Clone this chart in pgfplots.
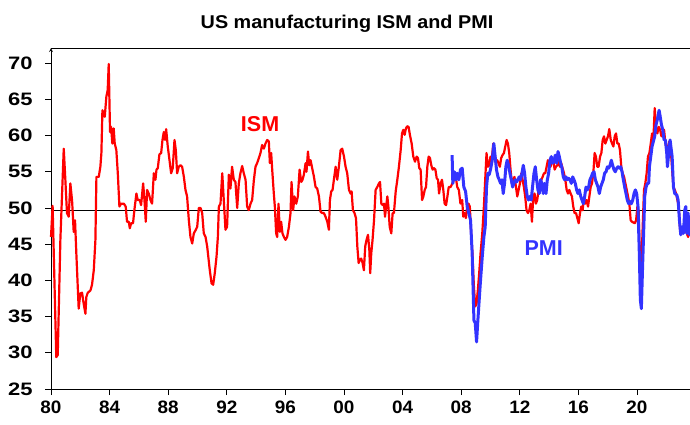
\documentclass[border=0pt]{standalone}
\usepackage{fontspec}
\setmainfont{Liberation Sans}
\newfontfamily\ytickfont[FakeStretch=1.22]{Liberation Sans}
\newfontfamily\xtickfont[FakeStretch=1.05]{Liberation Sans}
\newfontfamily\titlefont[FakeStretch=1.07]{Liberation Sans}
\usepackage{pgfplots}
\pgfplotsset{compat=1.18}
\definecolor{ismred}{RGB}{255,0,0}
\definecolor{pmiblue}{RGB}{51,51,255}
\begin{document}
\begin{tikzpicture}
\begin{axis}[
  at={(0,0)}, anchor=south west,
  scale only axis, width=639pt, height=341pt,
  xmin=1980, xmax=2023.62, ymin=25, ymax=72.1,
  axis x line=box, axis y line=left,
  axis line style={black, line width=0.8pt},
  xtick pos=lower, ytick pos=left,
  tick align=outside, major tick length=6pt,
  tick style={black, line width=0.8pt},
  xtick={1980,1984,...,2020},
  xticklabels={80,84,88,92,96,00,04,08,12,16,20},
  ytick={25,30,...,70},
  /pgf/number format/assume math mode=true,
  yticklabel style={font=\ytickfont\fontsize{18}{20}\selectfont\bfseries, xshift=-9pt},
  xticklabel style={font=\xtickfont\fontsize{18}{20}\selectfont\bfseries, yshift=-2pt},
  clip=false,
]
\addplot[black, line width=0.8pt] coordinates {(1980,49.7) (2023.62,49.7)};
\addplot[ismred, line width=2.2pt, line join=round] coordinates {
(1980.00,46.0)(1980.11,50.3)(1980.36,29.4)(1980.46,29.7)(1980.64,45.6)(1980.87,58.2)(1980.98,53.9)
(1981.09,49.3)(1981.21,48.8)(1981.32,53.4)(1981.44,51.0)(1981.55,46.7)(1981.64,48.3)(1981.73,43.7)(1981.89,36.1)
(1982.00,38.2)(1982.12,38.3)(1982.23,36.8)(1982.35,35.4)(1982.41,37.7)(1982.51,38.3)(1982.69,38.6)(1982.80,39.4)(1982.92,41.4)
(1983.03,45.5)(1983.10,54.3)(1983.26,54.3)(1983.37,55.7)(1983.44,57.6)(1983.51,63.5)(1983.67,62.6)(1983.78,65.4)(1983.87,66.3)(1983.94,69.9)
(1984.03,60.5)(1984.10,61.2)(1984.19,58.9)(1984.28,61.0)(1984.35,58.9)(1984.46,58.0)(1984.56,54.8)(1984.67,50.2)(1984.78,50.6)(1984.97,50.6)
(1985.10,50.2)(1985.19,48.1)(1985.31,48.1)(1985.38,47.2)(1985.47,47.9)(1985.60,47.9)(1985.69,49.7)(1985.83,52.0)(1985.92,51.1)
(1986.06,51.1)(1986.15,50.4)(1986.29,53.4)(1986.38,51.1)(1986.47,48.1)(1986.56,52.5)(1986.67,52.0)(1986.79,51.1)(1986.90,50.6)
(1987.02,54.8)(1987.13,53.9)(1987.20,55.3)(1987.29,55.5)(1987.40,57.4)(1987.52,57.6)(1987.61,59.4)(1987.70,60.5)(1987.79,59.4)(1987.86,60.9)(1987.97,58.5)
(1988.09,56.6)(1988.20,54.8)(1988.31,55.5)(1988.43,59.4)(1988.52,58.0)(1988.61,54.8)(1988.72,55.7)(1988.84,55.9)(1988.95,55.7)
(1989.07,54.3)(1989.18,52.5)(1989.29,51.6)(1989.41,48.3)(1989.52,46.0)(1989.64,45.1)(1989.75,46.5)(1989.86,46.9)(1989.98,47.4)
(1990.09,50.0)(1990.21,50.0)(1990.32,49.3)(1990.43,46.5)(1990.55,46.0)(1990.66,44.7)(1990.84,41.4)(1990.96,39.6)
(1991.07,39.4)(1991.18,41.0)(1991.30,43.3)(1991.39,46.0)(1991.46,50.2)(1991.57,50.6)(1991.69,54.8)(1991.91,47.0)
(1992.02,47.4)(1992.14,54.6)(1992.25,52.7)(1992.36,55.7)(1992.48,53.9)(1992.59,53.6)(1992.71,50.0)(1992.82,53.4)(1992.93,54.8)
(1993.05,55.8)(1993.16,54.8)(1993.28,53.9)(1993.39,50.2)(1993.50,49.7)(1993.62,50.6)(1993.73,51.1)(1993.85,53.9)(1993.96,55.7)
(1994.07,56.2)(1994.19,56.9)(1994.30,57.6)(1994.41,58.7)(1994.53,58.2)(1994.64,58.9)(1994.76,59.4)(1994.87,59.2)(1994.94,56.2)
(1995.03,57.6)(1995.10,55.3)(1995.21,52.0)(1995.28,50.2)(1995.37,46.5)(1995.44,46.0)(1995.53,50.6)(1995.62,46.7)(1995.71,48.1)(1995.80,46.5)(1995.90,46.0)
(1996.01,45.6)(1996.12,46.0)(1996.24,47.4)(1996.35,49.3)(1996.42,53.6)(1996.53,49.7)(1996.62,51.6)(1996.74,50.6)(1996.85,51.6)(1996.97,55.3)
(1997.08,53.6)(1997.17,53.9)(1997.26,54.6)(1997.38,56.2)(1997.44,55.0)(1997.54,57.8)(1997.63,55.9)(1997.72,56.6)(1997.83,55.5)(1997.95,54.3)
(1998.06,52.9)(1998.17,52.7)(1998.29,51.6)(1998.40,49.5)(1998.51,49.3)(1998.63,49.3)(1998.74,48.8)(1998.86,48.1)(1998.97,47.0)
(1999.04,51.1)(1999.13,52.3)(1999.22,52.5)(1999.31,53.9)(1999.43,55.7)(1999.54,53.9)(1999.65,55.7)(1999.77,58.0)(1999.88,58.2)
(2000.00,57.1)(2000.11,55.7)(2000.22,54.8)(2000.34,52.5)(2000.45,52.0)(2000.52,52.3)(2000.61,49.7)(2000.72,49.3)(2000.82,48.6)(2000.91,44.7)
(2001.00,42.4)(2001.09,42.9)(2001.18,43.0)(2001.27,42.4)(2001.36,41.4)(2001.45,44.7)(2001.54,45.6)(2001.64,46.3)(2001.73,44.2)(2001.79,41.0)(2001.86,43.7)(2001.95,45.6)
(2002.05,48.3)(2002.16,52.5)(2002.27,52.9)(2002.39,53.4)(2002.46,53.6)(2002.55,50.6)(2002.64,50.4)(2002.73,50.6)(2002.80,48.8)(2002.89,50.4)(2002.96,51.6)
(2003.03,50.2)(2003.12,47.4)(2003.23,46.5)(2003.32,49.3)(2003.41,49.3)(2003.53,52.3)(2003.64,53.9)(2003.75,55.7)(2003.87,58.0)(2003.96,60.3)
(2004.05,60.8)(2004.14,60.1)(2004.23,61.0)(2004.32,61.3)(2004.41,61.2)(2004.50,60.1)(2004.62,58.9)(2004.73,57.1)(2004.85,56.4)(2004.96,57.1)
(2005.05,56.9)(2005.14,55.5)(2005.23,55.3)(2005.33,51.1)(2005.42,51.6)(2005.51,52.5)(2005.60,52.9)(2005.69,55.7)(2005.78,57.1)(2005.87,56.9)(2005.96,55.9)
(2006.05,55.3)(2006.15,55.5)(2006.24,55.3)(2006.33,54.1)(2006.42,53.9)(2006.49,52.0)(2006.60,53.4)(2006.69,53.9)(2006.78,52.5)(2006.87,50.6)(2006.97,50.4)
(2007.06,51.6)(2007.15,52.9)(2007.28,52.9)(2007.40,53.4)(2007.50,53.9)(2007.61,54.6)(2007.73,52.9)(2007.84,52.5)(2007.95,50.6)
(2008.07,51.1)(2008.14,48.8)(2008.23,49.3)(2008.32,48.6)(2008.41,50.2)(2008.50,50.6)(2008.59,50.2)(2008.68,46.5)(2008.77,43.7)(2008.87,39.1)(2008.96,36.4)
(2009.05,36.8)(2009.14,38.7)(2009.23,41.0)(2009.32,43.7)(2009.44,46.5)(2009.55,50.2)(2009.64,53.9)(2009.73,57.6)(2009.82,55.7)(2009.91,55.9)
(2010.00,57.1)(2010.10,56.9)(2010.19,58.9)(2010.28,57.6)(2010.37,56.2)(2010.46,56.6)(2010.55,56.2)(2010.64,55.7)(2010.73,56.9)(2010.82,57.3)(2010.92,57.6)
(2011.01,58.5)(2011.10,59.4)(2011.19,58.9)(2011.28,57.6)(2011.37,55.3)(2011.46,53.4)(2011.55,53.9)(2011.64,54.3)(2011.74,52.9)(2011.83,51.6)(2011.92,52.5)
(2012.01,53.4)(2012.10,54.8)(2012.19,53.9)(2012.28,52.9)(2012.37,51.6)(2012.46,49.7)(2012.56,49.3)(2012.65,49.7)(2012.74,50.6)(2012.83,48.1)(2012.92,51.6)
(2013.01,52.0)(2013.10,50.6)(2013.19,51.1)(2013.28,52.5)(2013.38,52.9)(2013.47,53.9)(2013.56,54.3)(2013.65,54.8)(2013.74,54.8)(2013.83,55.7)(2013.92,56.6)
(2014.01,56.2)(2014.10,55.7)(2014.20,56.6)(2014.29,56.6)(2014.38,55.3)(2014.47,55.7)(2014.56,55.9)(2014.65,56.4)(2014.74,55.7)(2014.83,56.2)(2014.92,55.5)
(2015.02,54.8)(2015.11,53.9)(2015.20,52.5)(2015.29,52.0)(2015.38,52.5)(2015.47,52.0)(2015.56,51.6)(2015.65,50.2)(2015.74,49.3)(2015.84,49.3)(2015.93,48.6)
(2016.02,47.9)(2016.11,49.3)(2016.20,50.2)(2016.29,49.7)(2016.38,51.4)(2016.47,50.6)(2016.56,51.1)(2016.66,50.2)(2016.75,51.6)(2016.84,52.9)(2016.93,53.4)
(2017.02,54.8)(2017.11,57.6)(2017.20,57.1)(2017.29,55.7)(2017.38,55.7)(2017.48,57.1)(2017.57,57.6)(2017.66,59.4)(2017.75,59.9)(2017.84,58.9)(2017.93,59.4)
(2018.02,59.9)(2018.11,60.9)(2018.21,59.4)(2018.30,58.9)(2018.39,58.5)(2018.48,59.9)(2018.57,60.3)(2018.66,58.9)(2018.75,58.9)(2018.84,58.0)(2018.93,55.7)
(2019.02,54.8)(2019.12,54.3)(2019.21,53.4)(2019.30,52.5)(2019.39,51.6)(2019.48,50.6)(2019.57,48.3)(2019.66,48.1)(2019.75,48.0)(2019.85,47.9)(2019.94,48.3)
(2020.03,50.2)(2020.12,49.5)(2020.21,41.5)(2020.30,41.8)(2020.39,47.4)(2020.48,52.5)(2020.57,53.4)(2020.66,54.8)(2020.75,57.1)(2020.85,57.6)(2020.94,58.9)
(2021.03,60.3)(2021.12,59.4)(2021.21,63.8)(2021.30,61.2)(2021.39,60.3)(2021.49,61.2)(2021.58,60.8)(2021.67,59.9)(2021.76,60.5)(2021.85,60.8)(2021.94,58.9)
(2022.03,58.2)(2022.12,58.5)(2022.21,59.2)(2022.31,58.0)(2022.40,55.3)(2022.49,52.9)(2022.58,52.5)(2022.67,52.0)(2022.76,51.1)(2022.85,50.2)(2022.94,47.0)
(2023.03,47.0)(2023.12,46.5)(2023.22,47.4)(2023.31,47.0)(2023.40,46.5)(2023.49,46.0)(2023.58,46.7)
};
\addplot[pmiblue, line width=3pt, line join=round] coordinates {
(2007.38,57.3)(2007.43,53.4)(2007.54,55.0)(2007.64,53.9)(2007.73,54.8)(2007.84,53.9)(2007.95,55.3)
(2008.07,55.5)(2008.18,52.9)(2008.30,52.3)(2008.41,50.2)(2008.52,49.3)(2008.64,48.3)(2008.75,43.7)(2008.87,34.5)(2008.96,34.1)
(2009.05,31.5)(2009.14,34.5)(2009.23,37.3)(2009.32,40.0)(2009.44,43.3)(2009.55,46.0)(2009.64,47.4)(2009.73,52.9)(2009.82,54.8)(2009.91,54.6)
(2010.00,55.3)(2010.12,56.6)(2010.23,58.9)(2010.32,57.1)(2010.41,55.3)(2010.51,54.3)(2010.60,53.9)(2010.69,53.4)(2010.78,53.9)(2010.87,52.0)(2010.96,53.4)
(2011.05,55.7)(2011.14,56.6)(2011.23,55.9)(2011.33,54.8)(2011.42,53.9)(2011.51,52.9)(2011.60,53.4)(2011.69,53.9)(2011.78,53.6)(2011.87,53.9)(2011.96,54.3)
(2012.05,53.9)(2012.15,54.8)(2012.24,55.9)(2012.33,54.8)(2012.42,52.9)(2012.51,51.6)(2012.60,51.1)(2012.69,51.6)(2012.78,51.1)(2012.87,52.9)(2012.97,54.8)
(2013.06,55.7)(2013.15,53.9)(2013.24,52.5)(2013.33,52.0)(2013.42,53.9)(2013.51,53.4)(2013.60,52.0)(2013.69,53.4)(2013.79,52.0)(2013.88,53.9)(2013.97,54.8)
(2014.06,56.6)(2014.15,57.1)(2014.24,56.2)(2014.33,56.4)(2014.42,57.3)(2014.51,56.2)(2014.61,57.8)(2014.70,57.1)(2014.79,56.2)(2014.88,55.5)(2014.97,54.3)
(2015.06,53.9)(2015.15,54.3)(2015.24,53.9)(2015.33,54.1)(2015.43,53.9)(2015.52,53.4)(2015.61,54.3)(2015.70,53.9)(2015.79,53.4)(2015.88,52.5)(2015.97,52.0)
(2016.06,52.5)(2016.16,51.6)(2016.25,51.1)(2016.34,50.6)(2016.43,51.6)(2016.52,52.9)(2016.61,52.5)(2016.70,52.9)(2016.79,53.9)(2016.88,54.3)(2016.97,54.8)
(2017.07,55.0)(2017.16,53.9)(2017.25,53.4)(2017.34,52.9)(2017.43,52.0)(2017.52,52.9)(2017.61,53.4)(2017.70,53.9)(2017.79,54.8)(2017.89,55.0)(2017.98,55.7)
(2018.07,55.5)(2018.16,55.9)(2018.25,56.6)(2018.34,55.9)(2018.43,55.3)(2018.52,55.0)(2018.62,55.5)(2018.71,55.7)(2018.80,55.5)(2018.89,55.7)(2018.98,55.0)
(2019.07,53.9)(2019.16,52.9)(2019.25,52.0)(2019.34,51.1)(2019.43,50.6)(2019.53,50.9)(2019.62,50.6)(2019.71,51.1)(2019.80,52.0)(2019.89,52.5)(2019.98,52.0)
(2020.07,50.2)(2020.16,43.7)(2020.23,37.3)(2020.30,36.1)(2020.37,41.0)(2020.44,45.6)(2020.53,51.6)(2020.62,52.9)(2020.71,53.4)(2020.80,53.4)(2020.85,55.7)(2020.94,57.1)
(2021.03,58.5)(2021.12,59.2)(2021.21,59.9)(2021.30,61.5)(2021.39,62.2)(2021.51,63.5)(2021.58,62.7)(2021.67,61.5)(2021.76,60.8)(2021.85,59.4)(2021.94,59.4)
(2022.03,57.6)(2022.08,55.7)(2022.17,57.6)(2022.26,59.4)(2022.40,57.1)(2022.49,52.9)(2022.58,52.0)(2022.72,51.8)(2022.81,51.1)(2022.90,48.3)(2022.99,46.3)
(2023.08,47.4)(2023.17,46.5)(2023.26,49.7)(2023.33,50.2)(2023.40,46.5)(2023.49,49.3)(2023.58,46.3)(2023.62,48.3)
};
\node[anchor=base, text=ismred, font=\fontsize{21.5}{24}\selectfont\bfseries] at (axis cs:1994.27,60.54) {ISM};
\node[anchor=base, text=pmiblue, font=\fontsize{21.5}{24}\selectfont\bfseries] at (axis cs:2013.63,43.49) {PMI};
\end{axis}
\node[anchor=base, inner sep=0pt, font=\titlefont\fontsize{18.5}{22}\selectfont\bfseries] at (296pt,360.7pt) {US manufacturing ISM and PMI};
\pgfresetboundingbox
\path[use as bounding box] (-51pt,-35pt) rectangle (639pt,389pt);
\end{tikzpicture}
\end{document}
